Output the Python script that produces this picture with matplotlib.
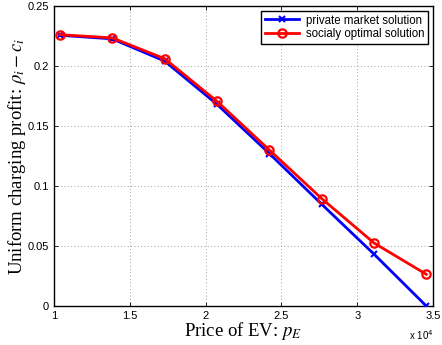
import matplotlib
matplotlib.use("Agg")
import matplotlib.pyplot as plt
import numpy as np

# data
price_ev = [10400, 13850, 17300, 20750, 24200, 27650, 31100, 34550]
private_market = [0.2255, 0.2225, 0.2040, 0.1680, 0.1270, 0.0848, 0.0432, 0.0000]
social_optimal = [0.2260, 0.2233, 0.2060, 0.1705, 0.1300, 0.0895, 0.0525, 0.0264]
x_ticks = [1.0, 1.5, 2.0, 2.5, 3.0, 3.5]
x_ticklabels = ["1", "1.5", "2", "2.5", "3", "3.5"]
y_ticks = [0, 0.05, 0.1, 0.15, 0.2, 0.25]
y_ticklabels = ["0", "0.05", "0.1", "0.15", "0.2", "0.25"]

plt.rcParams.update({
    "font.family": ["Liberation Sans", "DejaVu Sans"],
    "mathtext.fontset": "stix",
    "xtick.direction": "in",
    "ytick.direction": "in",
    "xtick.top": True,
    "ytick.right": True,
})

fig = plt.figure(figsize=(4.42, 3.45), dpi=100)
ax = fig.add_axes([0.122, 0.113, 0.858, 0.870])

xs = np.array(price_ev) / 1e4
ax.plot(xs, private_market, color="#0000ff", linewidth=2.0, marker="x",
        markersize=4.5, markeredgewidth=1.5, label="private market solution",
        zorder=3)
ax.plot(xs, social_optimal, color="#ff0000", linewidth=2.0, marker="o",
        markersize=6, markerfacecolor="none", markeredgewidth=1.6,
        label="socialy optimal solution", zorder=4)

ax.set_xlim(1, 3.5)
ax.set_ylim(0, 0.25)
ax.set_xticks(x_ticks)
ax.set_xticklabels(x_ticklabels)
ax.set_yticks(y_ticks)
ax.set_yticklabels(y_ticklabels)
ax.tick_params(labelsize=8, length=3, width=0.6, pad=3.5)

ax.grid(True, linestyle=(0, (1, 3)), linewidth=0.6, color="#808080")
ax.set_axisbelow(True)
for s in ax.spines.values():
    s.set_linewidth(1.0)
    s.set_color("black")

ax.set_xlabel("Price of EV: $p_E$", family="Liberation Serif", fontsize=13.5,
              labelpad=-0.5)
ax.set_ylabel(r"Uniform charging profit: $\rho_i - c_i$",
              family="Liberation Serif", fontsize=13.5, labelpad=0)

ax.text(1.0, -0.075, r"x 10$^{4}$", transform=ax.transAxes, ha="right",
        va="top", fontsize=7, family="Liberation Sans",
        math_fontfamily="dejavusans")

leg = ax.legend(loc="upper right", fontsize=8.3, frameon=True, fancybox=False,
                edgecolor="black", framealpha=1, borderpad=0.3,
                handlelength=3.0, labelspacing=0.15, borderaxespad=0.45,
                handletextpad=0.6)
leg.get_frame().set_linewidth(1.0)

fig.savefig("out.png", dpi=100, facecolor="white")
